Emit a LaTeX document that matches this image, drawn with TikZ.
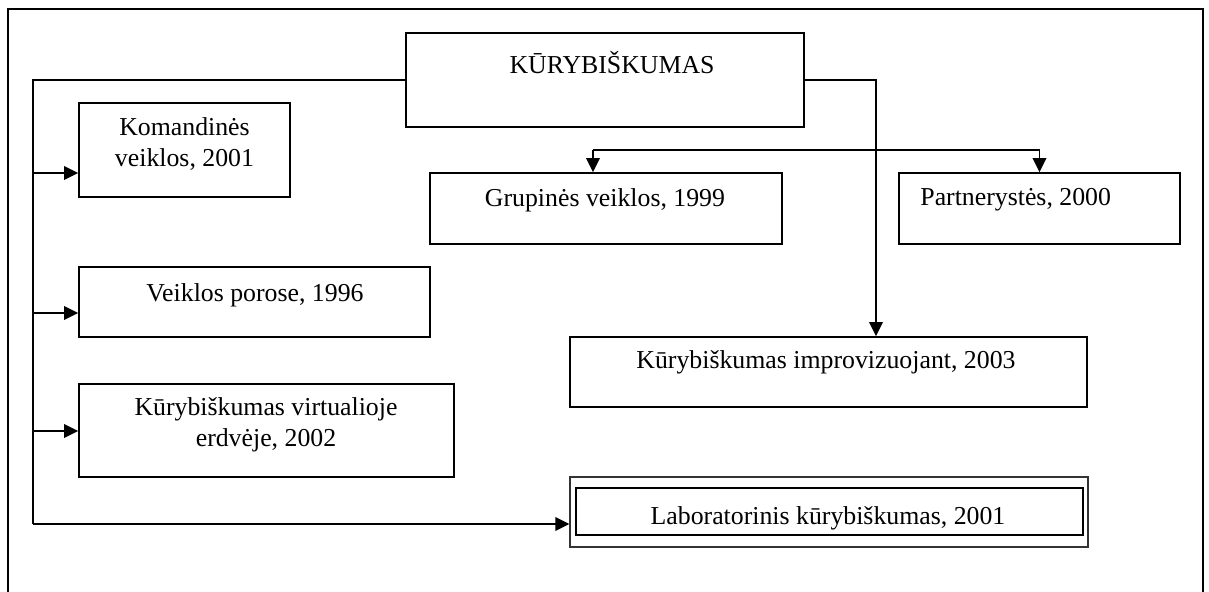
\documentclass[tikz,border=0pt]{standalone}
\usepackage{fontspec}
\setmainfont{Liberation Serif}
\usetikzlibrary{arrows.meta}
\begin{document}
\begin{tikzpicture}[x=0.5pt,y=-0.5pt,
  box/.style={draw, line width=0.9pt, inner sep=0pt},
  lbl/.style={inner sep=0pt, align=center, font=\fontsize{12.9}{15.3}\selectfont},
  conn/.style={line width=0.9pt, line join=miter},
  arr/.style={conn, -{Triangle[length=7pt,width=6.8pt]}},
  frameline/.style={line width=1.2pt}]
\useasboundingbox (0,0) rectangle (1209,592);

% outer frame (open at the bottom)
\draw[frameline] (7.7,592) -- (7.7,9) -- (1203,9) -- (1203,592);

% boxes
\node[box, minimum width=199pt,   minimum height=47pt]   (main) at (605,80) {};
\node[box, minimum width=105.5pt, minimum height=47pt]   (kom)  at (184.5,150) {};
\node[box, minimum width=176pt,   minimum height=35.5pt] (grup) at (606,208.5) {};
\node[box, minimum width=140.5pt, minimum height=35.5pt] (part) at (1039.5,208.5) {};
\node[box, minimum width=175.5pt, minimum height=35pt]   (por)  at (254.5,302) {};
\node[box, minimum width=187.5pt, minimum height=46.5pt] (virt) at (266.5,430.5) {};
\node[box, minimum width=258.5pt, minimum height=35pt]   (impr) at (828.5,372) {};
\node[draw, black!80, line width=0.7pt, inner sep=0pt,
      minimum width=259pt, minimum height=35pt] (lab) at (829,512) {};
\node[draw, line width=1.3pt, inner sep=0pt,
      minimum width=253.5pt, minimum height=23.5pt] (labin) at (829.5,511.5) {};

% texts
\node[lbl] (tmain) at (612,63)    {KŪRYBIŠKUMAS};
\node[lbl] (tkom)  at (184.5,144) {Komandinės\\veiklos, 2001};
\node[lbl] (tgrup) at (605,200)   {Grupinės veiklos, 1999};
\node[lbl, anchor=west] (tpart) at (920,200) {Partnerystės, 2000};
\node[lbl] (tpor)  at (255,295)   {Veiklos porose, 1996};
\node[lbl] (tvirt) at (266,425)   {Kūrybiškumas virtualioje\\erdvėje, 2002};
\node[lbl] (timpr) at (826,362)   {Kūrybiškumas improvizuojant, 2003};
\node[lbl] (tlab)  at (828,518)   {Laboratorinis kūrybiškumas, 2001};

% left trunk
\coordinate (tl) at (33,80);
\coordinate (tb) at (33,524);
\coordinate (k1) at (33,173);
\coordinate (p1) at (33,313);
\coordinate (v1) at (33,431);
\draw[conn] (main.west) -- (tl) -- (tb);
\draw[arr] (tb) -- (tb -| lab.west);
\draw[arr] (k1) -- (k1 -| kom.west);
\draw[arr] (p1) -- (p1 -| por.west);
\draw[arr] (v1) -- (v1 -| virt.west);

% right branch
\coordinate (tr) at (876,80);
\draw[arr] (main.east) -- (tr) -- (tr |- impr.north);

% split bar
\coordinate (gb) at (593,150);
\coordinate (pb) at (part.north |- gb);
\draw[conn] (gb) -- (pb);
\draw[arr] (gb) -- (gb |- grup.north);
\draw[arr] (pb) -- (part.north);
\end{tikzpicture}
\end{document}
